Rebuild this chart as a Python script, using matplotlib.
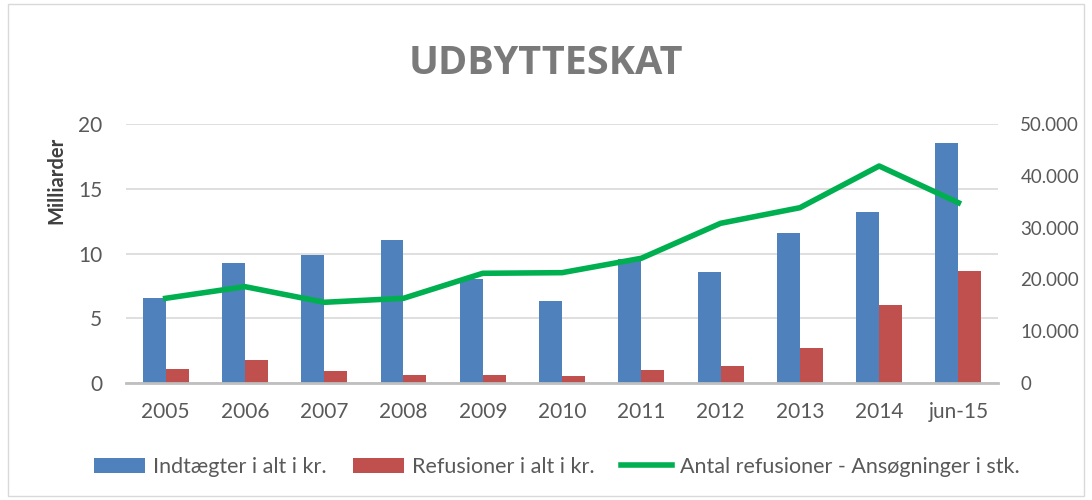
import matplotlib
matplotlib.use("Agg")
import matplotlib.pyplot as plt
import numpy as np
from matplotlib.ticker import FuncFormatter

categories = ["2005", "2006", "2007", "2008", "2009", "2010", "2011", "2012", "2013", "2014", "jun-15"]
indtaegter = [6.6, 9.3, 9.9, 11.05, 8.0, 6.3, 9.6, 8.6, 11.6, 13.2, 18.55]
refusioner = [1.08, 1.78, 0.93, 0.62, 0.62, 0.54, 1.0, 1.34, 2.68, 6.0, 8.67]
antal = [16350, 18600, 15580, 16350, 21180, 21300, 24080, 30830, 33840, 41890, 34800]

plt.rcParams['font.family'] = ['Lato', 'DejaVu Sans']
TXT = "#595959"

fig = plt.figure(figsize=(10.92, 5.0), dpi=100)
ax = fig.add_axes([0.1154, 0.234, 0.7986, 0.518])
ax2 = ax.twinx()

x = np.arange(len(categories))
w = 0.29
b1 = ax.bar(x - w/2, indtaegter, w, color="#4f81bd", label="Indtægter i alt i kr.", zorder=2)
b2 = ax.bar(x + w/2, refusioner, w, color="#c0504d", label="Refusioner i alt i kr.", zorder=2)
l1, = ax2.plot(x, antal, color="#00b050", lw=4, label="Antal refusioner - Ansøgninger i stk.")

ax.set_xlim(-0.5, len(categories) - 0.5)
ax.set_ylim(0, 20)
ax2.set_ylim(0, 50000)
ax.set_yticks([0, 5, 10, 15, 20])
ax2.set_yticks([0, 10000, 20000, 30000, 40000, 50000])
ax2.yaxis.set_major_formatter(FuncFormatter(lambda v, p: "0" if v == 0 else f"{int(v):,}".replace(",", ".")))
ax.set_xticks(x)
ax.set_xticklabels(categories)

ax.grid(axis='y', color="#d9d9d9", lw=1.2, zorder=0)
ax.set_axisbelow(True)
for a in (ax, ax2):
    for s in a.spines.values():
        s.set_visible(False)
    a.tick_params(length=0, labelsize=15, colors=TXT)
ax2.tick_params(axis='y', labelsize=13.5, pad=16)
ax.spines['bottom'].set_visible(True)
ax.spines['bottom'].set_color("#bfbfbf")
ax.spines['bottom'].set_linewidth(2)
ax.tick_params(axis='x', pad=14)
ax.tick_params(axis='y', pad=17)

fig.text(56/1092, 1 - 180/500, "Milliarder", rotation=90, ha='center', va='center',
         fontsize=14.5, fontweight='bold', color="#404040")

fig.text(0.5, 0.872, "UDBYTTESKAT", ha='center', va='center', fontsize=28.5,
         fontweight='bold', color="#7a7a7a", family=['Open Sans', 'DejaVu Sans'])

fig.legend(handles=[b1, b2, l1], loc='center', bbox_to_anchor=(0.51, 0.066), ncol=3,
           frameon=False, fontsize=15.5, handlelength=2.4, handleheight=0.7,
           columnspacing=1.2, handletextpad=0.37, labelcolor=TXT)

border = plt.Rectangle((8/1092, 4/500), 1076/1092, 492/500, transform=fig.transFigure,
                       fill=False, edgecolor="#d9d9d9", lw=1)
fig.patches.append(border)

fig.savefig("out.png", dpi=100)
